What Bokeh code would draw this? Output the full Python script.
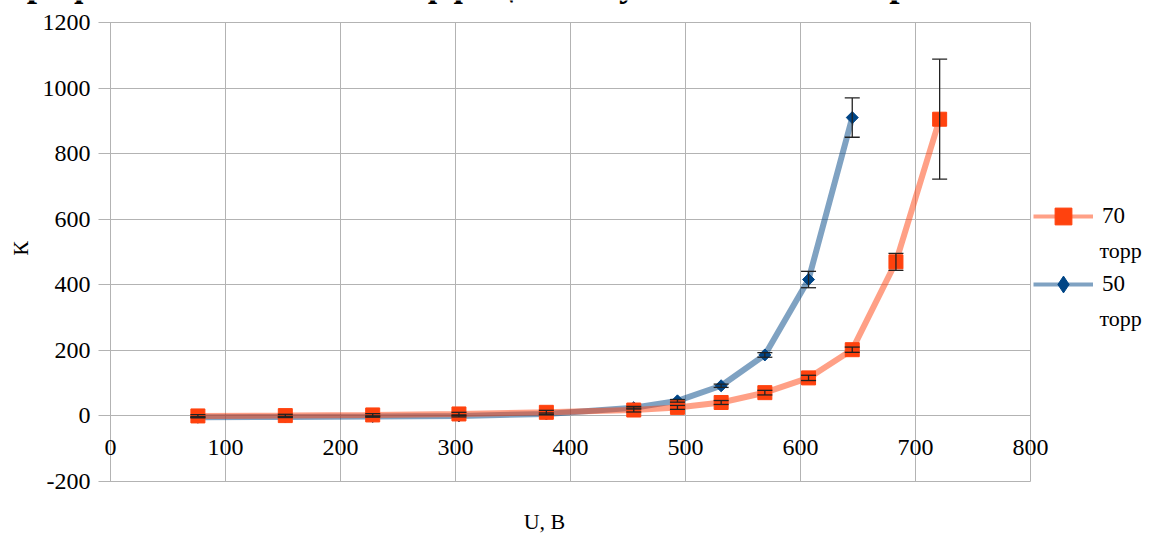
from bokeh.plotting import figure
from bokeh.models import (ColumnDataSource, Whisker, TeeHead, Legend, LegendItem,
                          Label, FixedTicker, Range1d, Grid)
from bokeh.core.properties import value
from bokeh.embed import file_html
from bokeh.resources import INLINE
import math

# ---------------- data ----------------
title_text = "График зависимости коэффициента усиления от напряжения"
x_label = "U, В"
y_label = "К"
series_names = ["70", "50"]
unit_name = "торр"

u_70 = [76, 152, 228, 303, 379, 455, 493, 531, 569, 607, 645, 683, 721]
k_70 = [0, 1, 3, 6, 11, 18, 26, 41, 71, 116, 202, 470, 905]
err_70 = [4, 4, 4, 5, 6, 6, 6, 6, 7, 8, 8, 26, 183]

u_50 = [76, 152, 228, 303, 379, 455, 493, 531, 569, 607, 645]
k_50 = [-4, -3, -2, 0, 6, 25, 46, 92, 186, 416, 910]
err_50 = [2, 2, 2, 3, 3, 4, 4, 5, 7, 25, 60]

x_ticks = [0, 100, 200, 300, 400, 500, 600, 700, 800]
x_tick_labels = ["0", "100", "200", "300", "400", "500", "600", "700", "800"]
y_ticks = [-200, 0, 200, 400, 600, 800, 1000, 1200]
y_tick_labels = ["-200", "0", "200", "400", "600", "800", "1000", "1200"]

ORANGE = "#FF420E"
BLUE = "#004586"
GRID = "#b3b3b3"
FONT = "Liberation Serif"

# ---------------- geometry (canvas px) ----------------
W, H = 1146, 534
X0_PX, X800_PX = 110, 1030        # where x=0 and x=800 fall
Y1200_PX, YM200_PX = 22, 481      # where y=1200 and y=-200 fall
TICK_LEFT_PX = 98                 # grid lines start here (they double as y ticks)
xs = (X800_PX - X0_PX) / 800.0
ys = (YM200_PX - Y1200_PX) / 1400.0
x_start = -X0_PX / xs
x_end = 800 + (W - X800_PX) / xs
y_end = 1200 + Y1200_PX / ys
y_start = -200 - (H - YM200_PX) / ys
x_tick_start = x_start + TICK_LEFT_PX / xs

p = figure(width=W, height=H,
           x_range=Range1d(x_start, x_end), y_range=Range1d(y_start, y_end),
           output_backend="svg", toolbar_location=None,
           x_axis_location=None, y_axis_location=None,
           min_border_left=0, min_border_right=0, min_border_top=0, min_border_bottom=0)
p.outline_line_color = None
p.background_fill_color = "white"
p.border_fill_color = "white"

# grid bounded to the data area
p.xgrid.ticker = FixedTicker(ticks=x_ticks)
p.ygrid.ticker = FixedTicker(ticks=y_ticks)
if "cross_bounds" in Grid.properties():
    p.xgrid.cross_bounds = (-200, 1200)
    p.ygrid.cross_bounds = (x_tick_start, 800)
    for g in (p.xgrid, p.ygrid):
        g.grid_line_color = GRID
        g.grid_line_width = 1
else:
    p.xgrid.visible = False
    p.ygrid.visible = False
    p.segment(x0=x_ticks, x1=x_ticks, y0=[-200] * len(x_ticks), y1=[1200] * len(x_ticks),
              line_color=GRID, line_width=1, level="underlay")
    p.segment(x0=[x_tick_start] * len(y_ticks), x1=[800] * len(y_ticks), y0=y_ticks, y1=y_ticks,
              line_color=GRID, line_width=1, level="underlay")

# tick labels (y labels left of the x = 0 axis, x labels under the y = 0 axis)
p.text(x=[0] * len(y_ticks), y=y_ticks, text=y_tick_labels,
       text_align="right", text_baseline="middle", x_offset=-20,
       text_font=value(FONT), text_font_size="24px", text_color="black")
p.text(x=x_ticks, y=[0] * len(x_ticks), text=x_tick_labels,
       text_align="center", text_baseline="middle", y_offset=32,
       text_font=value(FONT), text_font_size="24px", text_color="black")

# ---------------- series ----------------
src50 = ColumnDataSource(dict(x=u_50, y=k_50,
                              lo=[k - e for k, e in zip(k_50, err_50)],
                              hi=[k + e for k, e in zip(k_50, err_50)]))
src70 = ColumnDataSource(dict(x=u_70, y=k_70,
                              lo=[k - e for k, e in zip(k_70, err_70)],
                              hi=[k + e for k, e in zip(k_70, err_70)]))

p.line("x", "y", source=src50, line_color=BLUE, line_alpha=0.5, line_width=6)
p.line("x", "y", source=src70, line_color=ORANGE, line_alpha=0.5, line_width=6)
p.scatter("x", "y", source=src50, marker="square", angle=math.pi / 4, size=8.5,
          fill_color=BLUE, line_color=BLUE)
p.scatter("x", "y", source=src70, marker="square", size=14,
          fill_color=ORANGE, line_color=ORANGE)

for src in (src50, src70):
    w = Whisker(source=src, base="x", upper="hi", lower="lo",
                line_color="#222222", line_width=1.3, level="overlay",
                upper_head=TeeHead(size=15, line_color="#222222", line_width=1.3),
                lower_head=TeeHead(size=15, line_color="#222222", line_width=1.3))
    p.add_layout(w)

# legend swatches: renderers holding a single NaN point (nothing drawn in the plot)
nan1 = [float("nan")]
l70 = p.line(x=nan1, y=nan1, line_color=ORANGE, line_alpha=0.5, line_width=4)
m70 = p.scatter(x=nan1, y=nan1, marker="square", fill_color=ORANGE, line_color=ORANGE)
l50 = p.line(x=nan1, y=nan1, line_color=BLUE, line_alpha=0.5, line_width=4)
m50 = p.scatter(x=nan1, y=nan1, marker="diamond", fill_color=BLUE, line_color=BLUE)

legend = Legend(items=[LegendItem(label=series_names[0], renderers=[l70, m70]),
                       LegendItem(label=series_names[1], renderers=[l50, m50])],
                location=(1033, 229), orientation="vertical",
                glyph_width=60, glyph_height=42, label_height=42,
                label_standoff=9, spacing=26, padding=0, margin=0,
                border_line_color=None, background_fill_alpha=0,
                label_text_font=FONT, label_text_font_size="23px",
                label_text_color="black")
p.add_layout(legend, "center")

for yy in (284, 216):
    p.add_layout(Label(x=1099, y=yy, x_units="screen", y_units="screen",
                       text=unit_name, text_align="left", text_baseline="middle",
                       text_font=FONT, text_font_size="22px", text_color="black"))

# axis titles
p.add_layout(Label(x=20, y=H - 248, x_units="screen", y_units="screen",
                   text=y_label, angle=math.pi / 2, text_align="center",
                   text_baseline="middle", text_font=FONT, text_font_size="22px",
                   text_color="black"))
p.add_layout(Label(x=544, y=H - 521, x_units="screen", y_units="screen",
                   text=x_label, text_align="center", text_baseline="middle",
                   text_font=FONT, text_font_size="22px", text_color="black"))

# chart title: only its lowest strokes fall inside the page, as in the reference
p.add_layout(Label(x=520, y=H + 17, x_units="screen", y_units="screen",
                   text=title_text, text_align="center", text_baseline="alphabetic",
                   text_font=FONT, text_font_size="37px", text_font_style="bold",
                   text_color="black"))

open("out.html", "w").write(file_html(p, INLINE))
